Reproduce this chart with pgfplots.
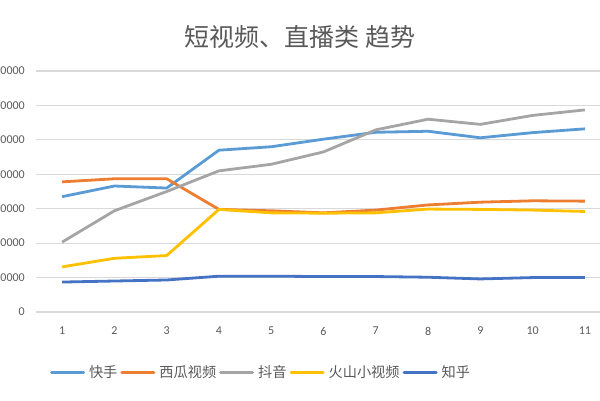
\documentclass[border=0pt]{standalone}
\usepackage{fontspec}
\setmainfont{Carlito}
\newfontfamily\cjk{Noto Sans CJK SC}
\usepackage{pgfplots}
\pgfplotsset{compat=1.18}
\definecolor{ksblue}{HTML}{5B9BD5}
\definecolor{xgorange}{HTML}{ED7D31}
\definecolor{dygray}{HTML}{A5A5A5}
\definecolor{hsyellow}{HTML}{FFC000}
\definecolor{zhblue}{HTML}{4472C4}
\definecolor{gridgray}{HTML}{D9D9D9}
\definecolor{txtgray}{HTML}{595959}
\begin{document}
\begin{tikzpicture}[x=1pt,y=1pt]
\begin{axis}[
  at={(36pt,88pt)}, anchor=south west,
  scale only axis, width=575pt, height=241pt,
  xmin=0.5, xmax=11.5, ymin=0, ymax=70000,
  xtick={1,...,11}, ytick={0,10000,...,70000},
  ymajorgrids, grid style={color=gridgray, line width=1.2pt},
  axis line style={draw=none}, major tick length=0pt,
  scaled y ticks=false,
  /pgf/number format/assume math mode=true,
  /pgf/number format/1000 sep={},
  ticklabel style={font=\fontsize{12}{14}\selectfont, text=txtgray},
  yticklabel style={inner sep=0pt, xshift=-11pt},
  xticklabel style={inner sep=0pt, yshift=-15pt},
  legend columns=5,
  legend style={at={(0.3896,-0.249)}, anchor=center, draw=none, fill=none,
    font=\cjk\fontsize{14.2}{17}\selectfont, text=txtgray,
    column sep=4pt,
    /tikz/every even column/.append style={column sep=3pt},
    nodes={inner xsep=0pt, inner ysep=1pt}},
  legend image code/.code={\draw[#1, line width=3pt, line cap=round] (1.5pt,0pt) -- (33.5pt,0pt);},
  every axis plot/.append style={line width=2.8pt, line join=round, no marks},
]
\addplot[ksblue] coordinates {(1,33500) (2,36600) (3,36000) (4,47000) (5,48000) (6,50200) (7,52200) (8,52500) (9,50600) (10,52100) (11,53200)};
\addlegendentry{快手}
\addplot[xgorange] coordinates {(1,37800) (2,38700) (3,38700) (4,29800) (5,29400) (6,28800) (7,29600) (8,31100) (9,31900) (10,32300) (11,32200)};
\addlegendentry{西瓜视频}
\addplot[dygray] coordinates {(1,20300) (2,29400) (3,35000) (4,41000) (5,42900) (6,46500) (7,52900) (8,56000) (9,54500) (10,57100) (11,58700)};
\addlegendentry{抖音}
\addplot[hsyellow] coordinates {(1,13100) (2,15600) (3,16400) (4,29800) (5,28800) (6,28700) (7,28800) (8,29900) (9,29800) (10,29600) (11,29200)};
\addlegendentry{火山小视频}
\addplot[zhblue] coordinates {(1,8700) (2,9000) (3,9300) (4,10400) (5,10400) (6,10300) (7,10300) (8,10100) (9,9600) (10,10000) (11,10000)};
\addlegendentry{知乎}
\end{axis}
\node[font=\cjk\fontsize{25}{30}\selectfont, text=txtgray] at (300,363) {短视频、直播类 趋势};
\pgfresetboundingbox
\useasboundingbox (0,0) rectangle (600,400);
\end{tikzpicture}
\end{document}
